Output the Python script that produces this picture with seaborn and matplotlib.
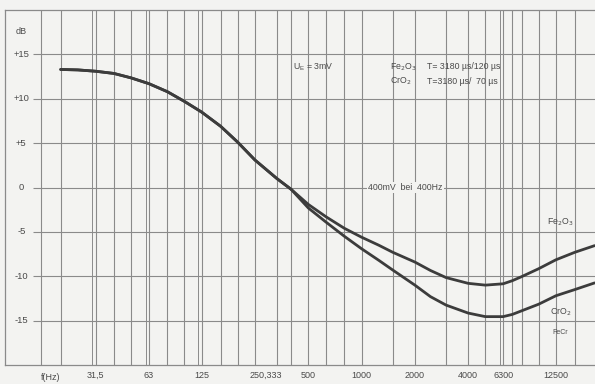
"""Tape playback frequency response chart (Fe2O3 / CrO2)."""

import matplotlib

matplotlib.use("Agg")
import matplotlib.pyplot as plt
import pandas as pd
import seaborn as sns

# common part of both curves (below ~400 Hz the two traces coincide)
freq_common = [20, 25, 31.5, 40, 50, 63, 80, 100, 125, 160, 200, 250, 333]
db_common = [13.3, 13.25, 13.1, 12.85, 12.35, 11.7, 10.8, 9.7, 8.5, 6.9, 5.1, 3.1, 1.0]

freq_high = [400, 500, 630, 800, 1000, 1250, 1500, 2000, 2450, 3000, 4000, 5000, 6300,
             7100, 8000, 10000, 12500, 16000, 20700]
db_fe2o3 = [-0.2, -1.9, -3.3, -4.6, -5.6, -6.5, -7.3, -8.4, -9.35, -10.15, -10.8, -11.0, -10.85,
            -10.5, -10.05, -9.15, -8.15, -7.3, -6.55]
db_cro2 = [-0.2, -2.3, -3.9, -5.5, -6.9, -8.2, -9.3, -11.0, -12.3, -13.25, -14.15, -14.55, -14.55,
           -14.3, -13.9, -13.15, -12.2, -11.5, -10.75]

grid_freqs = [15.5, 20, 31.5, 40, 50, 63, 80, 100, 125, 160, 200, 250, 333, 400, 500, 630,
              800, 1000, 1500, 2000, 3000, 4000, 5000, 6300, 7100, 8000, 10000, 12500, 16000]
double_lines = [31.5, 63, 125, 6300]
tick_freqs = [31.5, 63, 125, 289, 500, 1000, 2000, 4000, 6300, 12500]
tick_labels = ["31,5", "63", "125", "250,333", "500", "1000", "2000", "4000", "6300", "12500"]
y_levels = [15, 10, 5, 0, -5, -10, -15]
y_labels = ["+15", "+10", "+5", "0", "-5", "-10", "-15"]

BG = "#f3f3f1"
GRID = "#8a8a8a"
INK = "#3c3c3c"
TXT = "#4a4a4a"

sns.set_theme(style="white")
plt.rcParams["font.family"] = ["Liberation Sans", "DejaVu Sans"]

rows = []
for f, v in zip(freq_common + freq_high, db_common + db_fe2o3):
    rows.append({"freq": f, "db": v, "tape": "Fe2O3"})
for f, v in zip(freq_common + freq_high, db_common + db_cro2):
    rows.append({"freq": f, "db": v, "tape": "CrO2"})
df = pd.DataFrame(rows)

fig = plt.figure(figsize=(5.95, 3.84), dpi=100, facecolor=BG)
ax = fig.add_axes([5 / 595, 19 / 384, 590 / 595, 355 / 384], facecolor=BG)
ax.set_xscale("log")
ax.set_xlim(9.7, 20800)
ax.set_ylim(-20, 20)

for f in grid_freqs:
    ax.axvline(f, color=GRID, lw=0.8, zorder=1)
for f in double_lines:
    ax.axvline(f / 1.045, color=GRID, lw=0.7, zorder=1)
ax.hlines(y_levels, 14.0, 20800, color=GRID, lw=0.8, zorder=1)

sns.lineplot(data=df, x="freq", y="db", hue="tape", palette=[INK, INK],
             linewidth=2.0, legend=False, ax=ax, zorder=3)
for line in ax.get_lines():
    line.set_solid_joinstyle("round")

for spine in ["left", "bottom", "top"]:
    ax.spines[spine].set_color(GRID)
    ax.spines[spine].set_linewidth(0.9)
ax.spines["right"].set_visible(False)

ax.set_xticks(tick_freqs)
ax.set_xticklabels(tick_labels)
ax.minorticks_off()
ax.set_yticks([])
ax.tick_params(axis="x", length=0, pad=4, labelsize=6.5, labelcolor=TXT)
ax.set_xlabel("")
ax.set_ylabel("")

txt = dict(color=TXT, fontsize=6.3)
for y, lab in zip(y_levels, y_labels):
    ax.text(12.0, y, lab, ha="center", va="center", color=TXT, fontsize=6.8)
ax.text(12.0, 17.6, "dB", ha="center", va="center", color=TXT, fontsize=6.5)
ax.text(17.5, -21.4, "f(Hz)", ha="center", va="center", color=TXT, fontsize=6.5, clip_on=False)

ax.text(408, 13.6, r"U$_\mathregular{E}$ = 3mV", ha="left", va="center", **txt)
ax.text(1450, 13.6, r"Fe$_2$O$_3$", ha="left", va="center", **txt)
ax.text(2350, 13.6, "T= 3180 µs/120 µs", ha="left", va="center", **txt)
ax.text(1450, 12.0, r"CrO$_2$", ha="left", va="center", **txt)
ax.text(2350, 12.0, "T=3180 µs/  70 µs", ha="left", va="center", **txt)
ax.text(1772, 0, "400mV  bei  400Hz", ha="center", va="center",
        bbox=dict(facecolor=BG, edgecolor="none", pad=1), zorder=2, **txt)

ax.text(13300, -3.95, r"Fe$_2$O$_3$", ha="center", va="center", **txt)
ax.text(13300, -14.1, r"CrO$_2$", ha="center", va="center", **txt)
ax.text(13300, -16.35, "FeCr", ha="center", va="center", color=TXT, fontsize=5)

fig.savefig("out.png", dpi=100, facecolor=BG)
